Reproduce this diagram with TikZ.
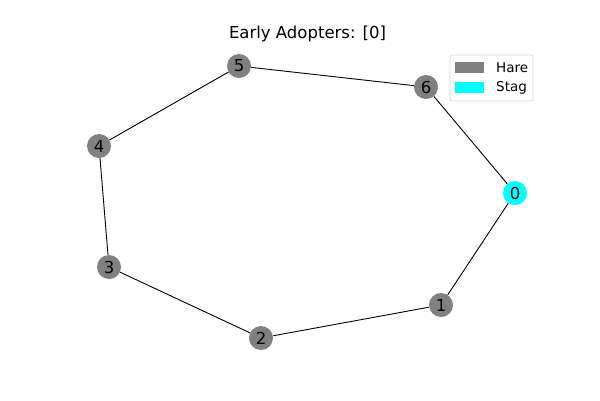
\documentclass[tikz,border=0pt]{standalone}
\usepackage{fontspec}
\setmainfont{DejaVu Sans}
\definecolor{stagcol}{RGB}{0,255,255}
\definecolor{harecol}{RGB}{128,128,128}
\begin{document}
\begin{tikzpicture}[x=1pt,y=-1pt,
  agent/.style={circle,minimum size=24pt,inner sep=0pt,font=\fontsize{16.5}{16.5}\selectfont},
  hare/.style={agent,fill=harecol},
  stag/.style={agent,fill=stagcol},
  link/.style={draw=black,line width=0.9pt},
  swatch/.style={minimum width=29pt,minimum height=11pt,inner sep=0pt},
  keytext/.style={anchor=west,inner sep=0pt,font=\fontsize{13.5}{13.5}\selectfont}]
\useasboundingbox (0,0) rectangle (600,400);
\fill[white] (0,0) rectangle (600,400);
% title
\node[font=\fontsize{16.5}{16.5}\selectfont] (title) at (307.5,34) {Early Adopters: [0]};
% agents on the ring
\node[stag] (n0) at (515,193) {0};
\node[hare] (n1) at (441,305) {1};
\node[hare] (n2) at (261,338) {2};
\node[hare] (n3) at (109,267) {3};
\node[hare] (n4) at (99,146) {4};
\node[hare] (n5) at (239,66) {5};
\node[hare] (n6) at (426,87) {6};
\draw[link] (n0) -- (n1);
\draw[link] (n1) -- (n2);
\draw[link] (n2) -- (n3);
\draw[link] (n3) -- (n4);
\draw[link] (n4) -- (n5);
\draw[link] (n5) -- (n6);
\draw[link] (n6) -- (n0);
% legend
\draw[draw=black!15,fill=white,rounded corners=2pt,line width=0.8pt] (450,55) rectangle (533,101);
\node[swatch,fill=harecol] (kh) at (469.5,67.5) {};
\node[swatch,fill=stagcol] (ks) at (469.5,87.5) {};
\node[keytext] (lh) at (496,67.5) {Hare};
\node[keytext] (ls) at (496,87.5) {Stag};
\end{tikzpicture}
\end{document}
